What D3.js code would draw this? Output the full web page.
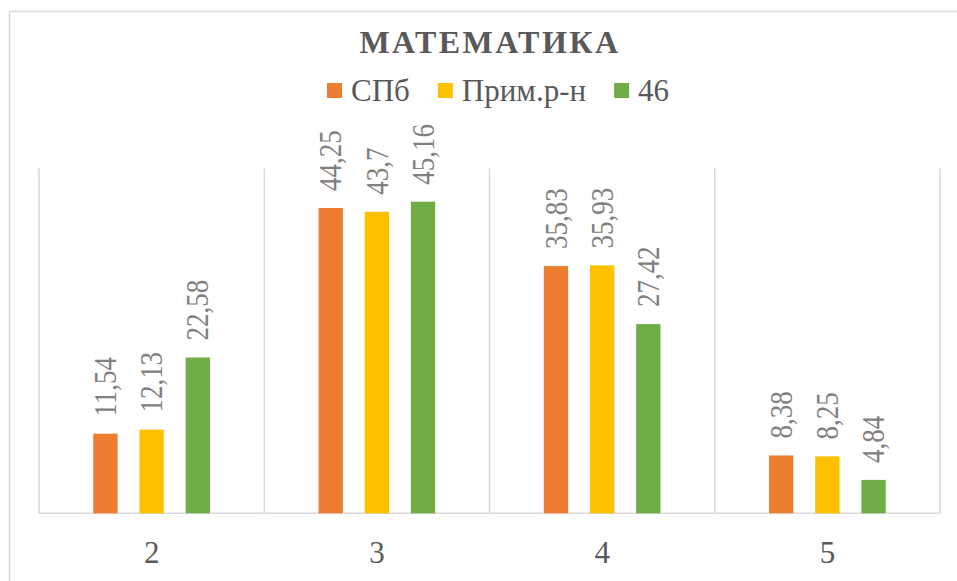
<!DOCTYPE html>
<html>
<head>
<meta charset="utf-8">
<script src="https://cdn.jsdelivr.net/npm/d3@7"></script>
<style>
  body { margin: 0; background: #fff; }
  svg { display: block; }
  text { font-family: 'Liberation Serif'; }
</style>
</head>
<body>
<svg id="chart" width="957" height="581"></svg>
<script>
var categories = ["2", "3", "4", "5"];
var seriesNames = ["СПб", "Прим.р-н", "46"];
var spbValues = [11.54, 44.25, 35.83, 8.38];
var primValues = [12.13, 43.7, 35.93, 8.25];
var school46Values = [22.58, 45.16, 27.42, 4.84];
var labelText = [
  ["11,54", "44,25", "35,83", "8,38"],
  ["12,13", "43,7", "35,93", "8,25"],
  ["22,58", "45,16", "27,42", "4,84"]
];

var FONT = "'Liberation Serif'";
var COLORS = { orange: "#ED7D31", yellow: "#FFC000", green: "#70AD47", grid: "#D9D9D9", text: "#595959", label: "#808080" };
var seriesColors = [COLORS.orange, COLORS.yellow, COLORS.green];
var seriesValues = [spbValues, primValues, school46Values];

var plot = { left: 39, right: 940, top: 168.3, bottom: 513.3 };

var svg = d3.select("#chart");

// outer chart frame (cropped on right / bottom)
svg.append("path")
  .attr("d", "M9.5,600 V11.5 H970")
  .style("fill", "none")
  .style("stroke", COLORS.grid)
  .style("stroke-width", 1.5);

var xScale = d3.scaleBand()
  .domain(categories)
  .range([plot.left, plot.right])
  .padding(0);

var cw = xScale.bandwidth();
var xInner = d3.scaleBand()
  .domain(d3.range(seriesNames.length))
  .range([cw * 0.241, cw * 0.759])
  .paddingInner(0.473)
  .paddingOuter(0);

var yScale = d3.scaleLinear()
  .domain([0, 50])
  .range([plot.bottom, plot.top]);

// vertical gridlines at category borders
var gridX = categories.map(c => xScale(c)).concat([plot.right]);
svg.append("g")
  .selectAll("line")
  .data(gridX)
  .join("line")
  .attr("x1", d => d)
  .attr("x2", d => d)
  .attr("y1", plot.top)
  .attr("y2", plot.bottom)
  .style("stroke", COLORS.grid)
  .style("stroke-width", 1.5);

// baseline
svg.append("line")
  .attr("x1", plot.left)
  .attr("x2", plot.right)
  .attr("y1", plot.bottom)
  .attr("y2", plot.bottom)
  .style("stroke", COLORS.grid)
  .style("stroke-width", 1.5);

var bars = [];
seriesValues.forEach(function(vals, s) {
  vals.forEach(function(v, i) {
    bars.push({ s: s, cat: categories[i], value: v, label: labelText[s][i] });
  });
});

svg.append("g")
  .selectAll("rect")
  .data(bars)
  .join("rect")
  .attr("x", d => xScale(d.cat) + xInner(d.s))
  .attr("y", d => yScale(d.value))
  .attr("width", xInner.bandwidth())
  .attr("height", d => plot.bottom - yScale(d.value))
  .style("fill", d => seriesColors[d.s]);

// rotated data labels
svg.append("g")
  .selectAll("text")
  .data(bars)
  .join("text")
  .attr("transform", function(d) {
    var cx = xScale(d.cat) + xInner(d.s) + xInner.bandwidth() / 2;
    return "translate(" + cx + "," + (yScale(d.value) - 17) + ") rotate(-90) scale(1,1.15)";
  })
  .attr("dominant-baseline", "central")
  .style("font-family", FONT)
  .style("font-size", "27px")
  .style("fill", COLORS.label)
  .text(d => d.label);

// category labels
svg.append("g")
  .selectAll("text")
  .data(categories)
  .join("text")
  .attr("x", d => xScale(d) + cw / 2)
  .attr("y", 563)
  .attr("text-anchor", "middle")
  .style("font-family", FONT)
  .style("font-size", "31px")
  .style("fill", COLORS.text)
  .text(d => d);

// title
svg.append("text")
  .attr("x", 490)
  .attr("y", 53)
  .attr("text-anchor", "middle")
  .style("font-family", FONT)
  .style("font-size", "32px")
  .style("font-weight", "bold")
  .style("letter-spacing", "2.5px")
  .style("fill", COLORS.text)
  .text("МАТЕМАТИКА");

// legend
var legend = svg.append("g");
var lx = 327;
seriesNames.forEach(function(name, i) {
  legend.append("rect")
    .attr("x", lx)
    .attr("y", 83)
    .attr("width", 15)
    .attr("height", 15)
    .style("fill", seriesColors[i]);
  var t = legend.append("text")
    .attr("x", lx + 24)
    .attr("y", 101)
    .style("font-family", FONT)
    .style("font-size", "31px")
    .style("fill", COLORS.text)
    .text(name);
  lx += 24 + t.node().getComputedTextLength() + 28;
});
</script>
</body>
</html>
